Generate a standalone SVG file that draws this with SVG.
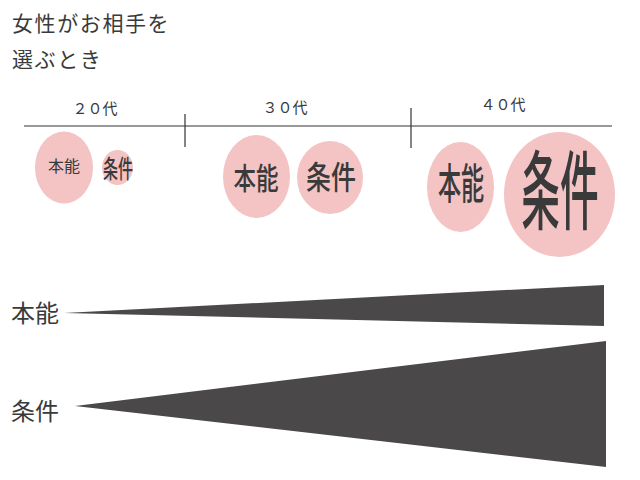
<svg xmlns="http://www.w3.org/2000/svg" width="640" height="480" viewBox="0 0 640 480">
<style>
text{font-family:"Noto Sans CJK JP","Noto Sans",sans-serif;fill:#3a3a3a}
.c{fill:#f4c3c3}
.t{text-anchor:middle}
.b{font-weight:500}
.ln{stroke:#333;stroke-width:1.2}
.w{fill:#4a4849}
</style>
<rect width="640" height="480" fill="#fff"/>
<g id="title">
<text x="12" y="31" font-size="21" letter-spacing="1.6">女性がお相手を</text>
<text x="12" y="67" font-size="21" letter-spacing="1.6">選ぶとき</text>
</g>
<g id="timeline">
<line class="ln" x1="24" y1="126" x2="612" y2="126"/>
<line class="ln" x1="185" y1="114" x2="185" y2="147"/>
<line class="ln" x1="411" y1="108" x2="411" y2="148"/>
<text class="t" x="95" y="114" font-size="15">２０代</text>
<text class="t" x="285" y="113" font-size="15">３０代</text>
<text class="t" x="503" y="110" font-size="15">４０代</text>
</g>
<g id="n20a"><ellipse class="c" cx="64" cy="167.5" rx="29" ry="36"/><text class="t" x="64" y="172" font-size="16">本能</text></g>
<g id="n20b"><ellipse class="c" cx="117.5" cy="167.5" rx="15.5" ry="17.5"/><text class="t b" transform="translate(118,178) scale(0.6,1)" font-size="25">条件</text></g>
<g id="n30a"><ellipse class="c" cx="256.5" cy="176.5" rx="33.5" ry="41.5"/><text class="t b" transform="translate(256,189) scale(0.75,1)" font-size="30">本能</text></g>
<g id="n30b"><ellipse class="c" cx="330" cy="177.5" rx="33" ry="36.5"/><text class="t b" transform="translate(331,189) scale(0.78,1)" font-size="32">条件</text></g>
<g id="n40a"><ellipse class="c" cx="460.5" cy="187" rx="33.5" ry="45"/><text class="t b" transform="translate(461,199) scale(0.55,1)" font-size="42">本能</text></g>
<g id="n40b"><ellipse class="c" cx="559.5" cy="194.5" rx="55.5" ry="62.5"/><text class="t b" transform="translate(560,223) scale(0.45,1)" font-size="86">条件</text></g>
<g id="wedges">
<polygon class="w" points="64,313 604,285 604,326"/>
<polygon class="w" points="75,406 606,341 606,467"/>
</g>
<g id="labels">
<text x="11" y="322" font-size="24">本能</text>
<text x="11" y="420" font-size="24">条件</text>
</g>
</svg>
